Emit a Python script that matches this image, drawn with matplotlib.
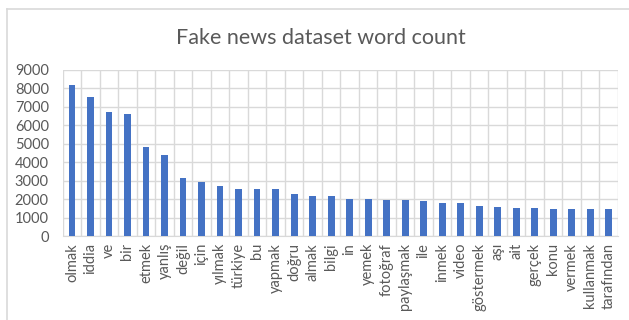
import matplotlib
matplotlib.use("Agg")
import matplotlib.pyplot as plt
from matplotlib.lines import Line2D

# word counts
words = ['olmak', 'iddia', 've', 'bir', 'etmek', 'yanlış', 'değil', 'için', 'yılmak',
         'türkiye', 'bu', 'yapmak', 'doğru', 'almak', 'bilgi', 'in', 'yemek', 'fotoğraf',
         'paylaşmak', 'ile', 'inmek', 'video', 'göstermek', 'aşı', 'ait', 'gerçek',
         'konu', 'vermek', 'kullanmak', 'tarafından']
counts = [8200, 7530, 6720, 6630, 4830, 4390, 3150, 2940, 2720,
          2540, 2540, 2540, 2270, 2160, 2150, 2030, 2030, 1940,
          1930, 1920, 1810, 1780, 1630, 1560, 1530, 1510,
          1480, 1480, 1480, 1480]
yticks = [0, 1000, 2000, 3000, 4000, 5000, 6000, 7000, 8000, 9000]

plt.rcParams['font.family'] = ['Lato', 'DejaVu Sans']
txt = '#595959'
grid = '#D9D9D9'

fig = plt.figure(figsize=(6.29, 3.20), dpi=100)
ax = fig.add_axes([0.0997, 0.2625, 0.8828, 0.519])

x = list(range(len(words)))
ax.bar(x, counts, width=0.37, color='#4472C4', zorder=3)

ax.set_xlim(-0.5, len(words) - 0.5)
ax.set_ylim(0, 9000)
ax.set_yticks(yticks)
ax.set_yticklabels([str(v) for v in yticks], color=txt, fontsize=10.5)
ax.set_xticks(x)
ax.set_xticklabels(words, rotation=90, color=txt, fontsize=10.5)
ax.set_xticks([i + 0.5 for i in range(-1, len(words))], minor=True)
ax.tick_params(axis='both', which='both', length=0)
ax.tick_params(axis='y', pad=10)
ax.tick_params(axis='x', pad=5)

ax.grid(axis='y', color=grid, linewidth=1, zorder=0)
ax.grid(axis='x', which='minor', color=grid, linewidth=1, zorder=0)
for s in ax.spines.values():
    s.set_visible(False)
ax.spines['bottom'].set_visible(True)
ax.spines['bottom'].set_color(grid)

fig.text(321 / 629, 1 - 38 / 320, 'Fake news dataset word count', ha='center', va='center',
         fontsize=15.5, color=txt)

# chart frame
fig.add_artist(Line2D([7 / 629, 1.0], [1 - 9 / 320, 1 - 9 / 320], color=grid, lw=1.2,
                      transform=fig.transFigure))
fig.add_artist(Line2D([7 / 629, 7 / 629], [0.0, 1 - 9 / 320], color=grid, lw=1.2,
                      transform=fig.transFigure))

fig.savefig('out.png', dpi=100)
